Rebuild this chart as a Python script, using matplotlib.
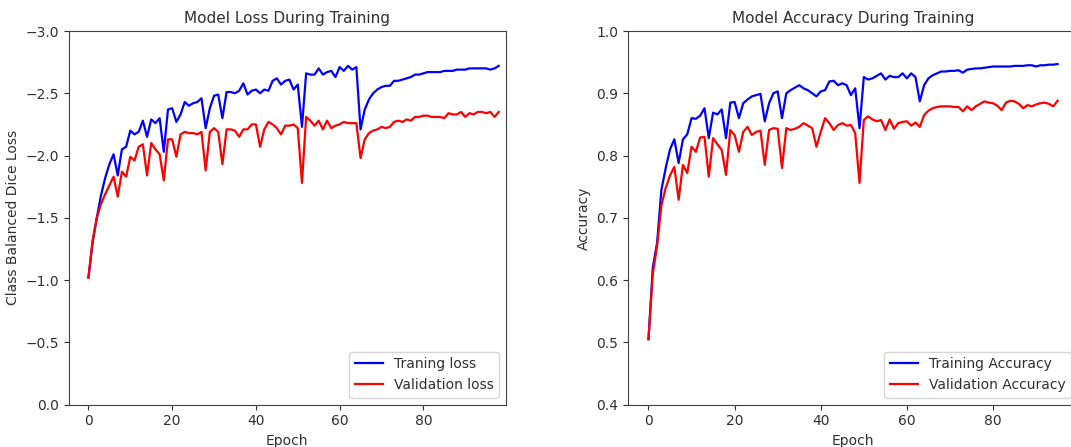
import matplotlib
matplotlib.use("Agg")
import matplotlib.pyplot as plt
import numpy as np

# loss values (class balanced dice loss, negative)
train_loss = [
    -1.02, -1.30, -1.50, -1.68, -1.82, -1.93, -2.01, -1.84, -2.05, -2.07,
    -2.20, -2.17, -2.19, -2.28, -2.15, -2.29, -2.26, -2.30, -2.03, -2.37,
    -2.38, -2.27, -2.33, -2.43, -2.40, -2.42, -2.43, -2.46, -2.22, -2.38,
    -2.48, -2.49, -2.30, -2.51, -2.51, -2.50, -2.52, -2.58, -2.49, -2.52,
    -2.53, -2.50, -2.53, -2.52, -2.60, -2.62, -2.57, -2.60, -2.61, -2.53,
    -2.57, -2.23, -2.66, -2.65, -2.65, -2.70, -2.65, -2.67, -2.68, -2.63,
    -2.71, -2.68, -2.72, -2.69, -2.71, -2.21, -2.37, -2.45, -2.50, -2.53,
    -2.55, -2.56, -2.56, -2.60, -2.60, -2.61, -2.62, -2.63, -2.65, -2.65,
    -2.66, -2.67, -2.67, -2.67, -2.67, -2.68, -2.68, -2.68, -2.69, -2.69,
    -2.69, -2.70, -2.70, -2.70, -2.70, -2.70, -2.69, -2.70, -2.72,
]
val_loss = [
    -1.02, -1.32, -1.50, -1.61, -1.69, -1.76, -1.83, -1.67, -1.87, -1.83,
    -1.99, -1.96, -2.07, -2.09, -1.84, -2.10, -2.05, -2.01, -1.80, -2.13,
    -2.13, -1.99, -2.17, -2.19, -2.18, -2.18, -2.17, -2.19, -1.88, -2.19,
    -2.22, -2.19, -1.93, -2.21, -2.21, -2.20, -2.15, -2.21, -2.21, -2.25,
    -2.25, -2.07, -2.21, -2.27, -2.25, -2.22, -2.17, -2.24, -2.24, -2.25,
    -2.22, -1.78, -2.31, -2.28, -2.24, -2.28, -2.21, -2.28, -2.22, -2.24,
    -2.25, -2.27, -2.26, -2.26, -2.26, -1.98, -2.13, -2.18, -2.20, -2.21,
    -2.23, -2.22, -2.23, -2.27, -2.28, -2.27, -2.29, -2.28, -2.31, -2.31,
    -2.32, -2.32, -2.31, -2.31, -2.31, -2.30, -2.34, -2.33, -2.33, -2.35,
    -2.31, -2.34, -2.33, -2.35, -2.35, -2.34, -2.35, -2.31, -2.35,
]

# accuracy values
train_acc = [
    0.505, 0.620, 0.660, 0.745, 0.780, 0.810, 0.826, 0.788, 0.826, 0.834,
    0.860, 0.859, 0.864, 0.876, 0.828, 0.869, 0.866, 0.874, 0.828, 0.885,
    0.886, 0.860, 0.884, 0.890, 0.895, 0.897, 0.899, 0.855, 0.884, 0.900,
    0.903, 0.860, 0.900, 0.905, 0.909, 0.913, 0.908, 0.905, 0.900, 0.895,
    0.903, 0.905, 0.919, 0.920, 0.913, 0.916, 0.913, 0.897, 0.908, 0.844,
    0.926, 0.922, 0.924, 0.928, 0.932, 0.922, 0.928, 0.926, 0.926, 0.932,
    0.924, 0.932, 0.926, 0.887, 0.913, 0.924, 0.929, 0.932, 0.935, 0.935,
    0.936, 0.936, 0.937, 0.933, 0.938, 0.939, 0.940, 0.940, 0.941, 0.942,
    0.943, 0.943, 0.943, 0.943, 0.943, 0.944, 0.944, 0.944, 0.945, 0.945,
    0.943, 0.945, 0.945, 0.946, 0.946, 0.947,
]
val_acc = [
    0.505, 0.610, 0.655, 0.720, 0.748, 0.768, 0.782, 0.729, 0.785, 0.772,
    0.814, 0.806, 0.829, 0.830, 0.766, 0.828, 0.818, 0.809, 0.769, 0.841,
    0.833, 0.806, 0.838, 0.846, 0.833, 0.838, 0.840, 0.785, 0.841, 0.844,
    0.843, 0.780, 0.844, 0.841, 0.843, 0.846, 0.852, 0.848, 0.844, 0.814,
    0.838, 0.860, 0.852, 0.841, 0.849, 0.852, 0.848, 0.849, 0.836, 0.756,
    0.857, 0.863, 0.858, 0.855, 0.857, 0.841, 0.858, 0.843, 0.852, 0.854,
    0.855, 0.848, 0.853, 0.846, 0.865, 0.872, 0.876, 0.878, 0.879, 0.879,
    0.879, 0.878, 0.878, 0.871, 0.879, 0.873, 0.879, 0.883, 0.887, 0.885,
    0.884, 0.880, 0.873, 0.885, 0.888, 0.887, 0.883, 0.876, 0.881, 0.879,
    0.882, 0.884, 0.885, 0.883, 0.879, 0.888,
]

text_col = '#303030'
plt.rcParams['text.color'] = text_col
plt.rcParams['axes.labelcolor'] = text_col
plt.rcParams['xtick.color'] = text_col
plt.rcParams['ytick.color'] = text_col
plt.rcParams['axes.edgecolor'] = '#404040'
plt.rcParams['axes.titlesize'] = 11

fig = plt.figure(figsize=(10.71, 4.47), dpi=100)
ax1 = fig.add_axes([0.064, 0.095, 0.4085, 0.8356])
ax2 = fig.add_axes([0.5864, 0.095, 0.4202, 0.8356])

ax1.plot(np.arange(len(train_loss)), train_loss, color='b', lw=1.6, label='Traning loss')
ax1.plot(np.arange(len(val_loss)), val_loss, color='r', lw=1.6, label='Validation loss')
ax1.set_xlim(-4.75, 99.75)
ax1.set_ylim(0.0, -3.0)
ax1.set_xticks([0, 20, 40, 60, 80])
ax1.set_yticks(np.arange(0.0, -3.01, -0.5))
ax1.set_title('Model Loss During Training')
ax1.set_xlabel('Epoch')
ax1.set_ylabel('Class Balanced Dice Loss')
ax1.legend(loc='lower right')

ax2.plot(np.arange(len(train_acc)), train_acc, color='b', lw=1.6, label='Training Accuracy')
ax2.plot(np.arange(len(val_acc)), val_acc, color='r', lw=1.6, label='Validation Accuracy')
ax2.set_xlim(-4.75, 99.75)
ax2.set_ylim(0.4, 1.0)
ax2.set_xticks([0, 20, 40, 60, 80])
ax2.set_title('Model Accuracy During Training')
ax2.set_xlabel('Epoch')
ax2.set_ylabel('Accuracy')
ax2.legend(loc='lower right')

fig.savefig('out.png', dpi=100)
